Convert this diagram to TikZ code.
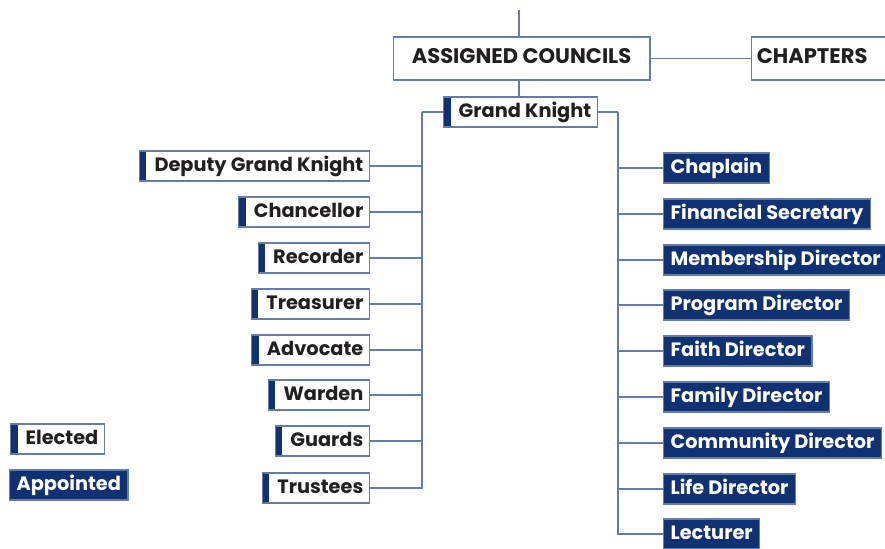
\documentclass[tikz,border=0pt]{standalone}
\usepackage{fontspec}
\setmainfont{Poppins}
\usetikzlibrary{positioning}
\definecolor{knavy}{RGB}{16,50,115}
\definecolor{kline}{RGB}{100,124,168}
\definecolor{ktext}{RGB}{35,31,32}
\tikzset{
    orgbox/.style={
    rectangle,draw=kline,fill=white,text=ktext,line width=0.6pt,
    font=\fontsize{11}{13}\selectfont\bfseries,minimum height=0.6cm,inner xsep=3.5pt,
    text height=0.7em,text depth=0.1em
    },
    elected/.style={
    orgbox,execute at begin node={\hspace*{0.18cm}},
    path picture={\fill[knavy] (path picture bounding box.south west) rectangle
      ([xshift=0.14cm]path picture bounding box.north west);}
    },
    appointed/.style={
    rectangle,draw=kline,fill=knavy,text=white,line width=0.6pt,
    font=\fontsize{11}{13}\selectfont\bfseries,minimum height=0.6cm,inner xsep=4pt,
    text height=0.7em,text depth=0.1em
    },
    council/.style={
    orgbox,font=\fontsize{12}{14}\selectfont\bfseries,minimum height=0.86cm
    },
    link/.style={draw=kline,line width=0.6pt},
}
\begin{document}
\begin{tikzpicture}[x=0.02cm,y=-0.02cm]
  \useasboundingbox (0,0) rectangle (885,548);
  % top level
  \coordinate (top) at (519,10);
  \node[council,minimum width=5.14cm] (ac) at (521.5,58.5) {ASSIGNED COUNCILS};
  \node[council,anchor=west,text width=2.6cm,align=left,inner xsep=3pt] (chap) at (751,58.5) {CHAPTERS};
  \node[elected,anchor=west] (gk) at (443,112) {Grand Knight};

  % elected officers
  \node[elected,anchor=east] (dgk) at (370,166) {Deputy Grand Knight};
  \node[elected,anchor=east] (chan) at (370,212) {Chancellor};
  \node[elected,anchor=east] (rec) at (370,258) {Recorder};
  \node[elected,anchor=east] (tre) at (370,304) {Treasurer};
  \node[elected,anchor=east] (adv) at (370,350) {Advocate};
  \node[elected,anchor=east] (war) at (370,395) {Warden};
  \node[elected,anchor=east] (gua) at (370,441) {Guards};
  \node[elected,anchor=east] (tru) at (370,488) {Trustees};

  % appointed officers
  \node[appointed,anchor=west] (cha) at (663,168) {Chaplain};
  \node[appointed,anchor=west] (fin) at (663,214) {Financial Secretary};
  \node[appointed,anchor=west] (mem) at (663,260) {Membership Director};
  \node[appointed,anchor=west] (pro) at (663,305) {Program Director};
  \node[appointed,anchor=west] (fai) at (663,351) {Faith Director};
  \node[appointed,anchor=west] (fam) at (663,397) {Family Director};
  \node[appointed,anchor=west] (com) at (663,443) {Community Director};
  \node[appointed,anchor=west] (lif) at (663,489) {Life Director};
  \node[appointed,anchor=west] (lec) at (663,534) {Lecturer};

  % legend
  \node[elected,anchor=west] (lgel) at (10,439) {Elected};
  \node[appointed,anchor=west] (lgap) at (9,485) {Appointed};

  \coordinate (lbus) at (422,112);
  \coordinate (rbus) at (618,112);

  \path[link]
    (top) -- (top |- ac.north)
    (ac.east) -- (chap.west)
    (top |- ac.south) -- (top |- gk.north)
    (gk.west) -- (lbus)
    (gk.east) -- (rbus);
  \foreach \n in {dgk,chan,rec,tre,adv,war,gua,tru}
    \draw[link] (lbus) |- (\n.east);
  \foreach \n in {cha,fin,mem,pro,fai,fam,com,lif,lec}
    \draw[link] (rbus) |- (\n.west);
\end{tikzpicture}
\end{document}
